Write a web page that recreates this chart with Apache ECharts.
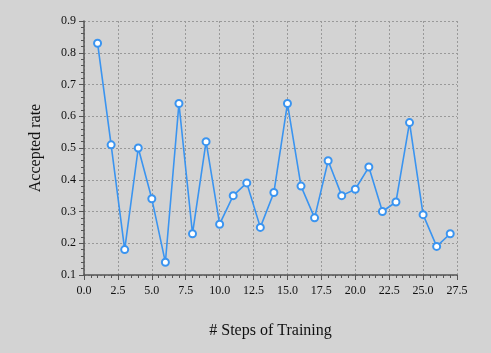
<!DOCTYPE html>
<html>
<head>
<meta charset="utf-8">
<script src="https://cdn.jsdelivr.net/npm/echarts@6/dist/echarts.min.js"></script>
<style>
  html, body { margin: 0; padding: 0; background: #d3d3d3; }
  #main { width: 491px; height: 353px; }
</style>
</head>
<body>
<div id="main"></div>
<script>
// steps and accepted rate per step
const steps = [1, 2, 3, 4, 5, 6, 7, 8, 9, 10, 11, 12, 13, 14, 15, 16, 17, 18, 19, 20, 21, 22, 23, 24, 25, 26, 27]
const acceptedRate = [0.83, 0.51, 0.18, 0.50, 0.34, 0.14, 0.64, 0.23, 0.52, 0.26, 0.35, 0.39, 0.25, 0.36, 0.64,
  0.38, 0.28, 0.46, 0.35, 0.37, 0.44, 0.30, 0.33, 0.58, 0.29, 0.19, 0.23]

const fontFamily = '"Liberation Serif", "DejaVu Serif", serif'
const axisColor = '#555'
const gridLine = { show: true, lineStyle: { color: '#999', type: [2, 2], width: 1 } }

const chart = echarts.init(document.getElementById('main'))
const option = {
  backgroundColor: '#d3d3d3',
  animation: false,
  grid: { left: 84, right: 34, top: 21, bottom: 78 },
  xAxis: {
    type: 'value',
    min: 0,
    max: 27.5,
    interval: 2.5,
    name: '# Steps of Training',
    nameLocation: 'middle',
    nameGap: 48,
    nameTextStyle: { fontFamily: fontFamily, fontSize: 16, color: '#111' },
    axisLine: { show: true, lineStyle: { color: axisColor, width: 1.5 } },
    axisTick: { show: true, length: 5, lineStyle: { color: axisColor } },
    minorTick: { show: true, splitNumber: 5, length: 3, lineStyle: { color: axisColor } },
    axisLabel: {
      fontFamily: fontFamily, fontSize: 12, color: '#111', margin: 10,
      formatter: v => v.toFixed(1)
    },
    splitLine: gridLine
  },
  yAxis: {
    type: 'value',
    min: 0.1,
    max: 0.9,
    interval: 0.1,
    name: 'Accepted rate',
    nameLocation: 'middle',
    nameGap: 40,
    nameTextStyle: { fontFamily: fontFamily, fontSize: 16, color: '#111' },
    axisLine: { show: true, lineStyle: { color: axisColor, width: 1.5 } },
    axisTick: { show: true, length: 5, lineStyle: { color: axisColor } },
    minorTick: { show: true, splitNumber: 5, length: 3, lineStyle: { color: axisColor } },
    axisLabel: {
      fontFamily: fontFamily, fontSize: 12, color: '#111', margin: 8,
      formatter: v => v.toFixed(1)
    },
    splitLine: gridLine
  },
  series: [
    {
      type: 'line',
      data: steps.map((s, i) => [s, acceptedRate[i]]),
      symbol: 'circle',
      symbolSize: 7,
      itemStyle: { color: '#ffffff', borderColor: '#3a94f0', borderWidth: 2 },
      lineStyle: { color: '#3a94f0', width: 1.6 }
    }
  ]
}
chart.setOption(option)
</script>
</body>
</html>
